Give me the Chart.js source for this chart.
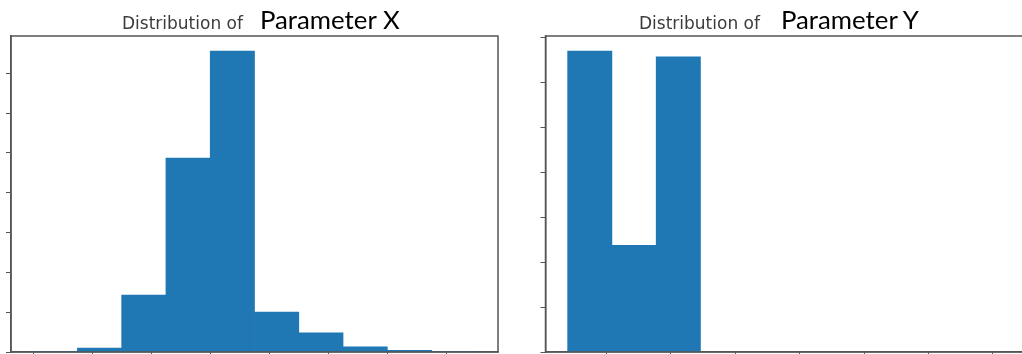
<!DOCTYPE html>
<html>
<head>
<meta charset="utf-8">
<script src="https://cdn.jsdelivr.net/npm/chart.js@4.4.1/dist/chart.umd.min.js"></script>
<style>
  html, body { margin: 0; padding: 0; width: 1022px; height: 354px; overflow: hidden; background: #fff; }
  canvas { position: absolute; top: 0; }
  #histX { left: 0; }
  #histY { left: 511px; }
  .title { position: absolute; top: 6px; white-space: nowrap; display: flex; align-items: baseline; line-height: 26px; }
  .title .pre { font-family: "DejaVu Sans", sans-serif; font-size: 17px; color: #3c3c3c; }
  .title .name { font-family: Lato, sans-serif; font-size: 25.8px; color: #000; margin-left: 17px; }
  #titleY .name { margin-left: 21px; }
</style>
</head>
<body>
<canvas id="histX" width="511" height="360"></canvas>
<canvas id="histY" width="511" height="360"></canvas>
<div class="title" id="titleX" style="left:122px"><span class="pre">Distribution of</span><span class="name">Parameter X</span></div>
<div class="title" id="titleY" style="left:639px"><span class="pre">Distribution of</span><span class="name">Parameter Y</span></div>
<script>
// Histogram of Parameter X: 10 equal bins
const binEdgesX = [0, 0.75, 1.5, 2.25, 3, 3.75, 4.5, 5.25, 6, 6.75, 7.5];
const countsX = [1, 10, 143, 487, 756, 100, 48, 13, 4, 1];
const xTicksX = [0, 1, 2, 3, 4, 5, 6, 7];
const yTicksX = [0, 100, 200, 300, 400, 500, 600, 700];

// Histogram of Parameter Y: 10 equal bins
const binEdgesY = [0.400, 1.087, 1.774, 2.461, 3.148, 3.835, 4.522, 5.209, 5.896, 6.583, 7.270];
const countsY = [669, 237, 656, 0, 0, 0, 0, 0, 0, 0];
const xTicksY = [1, 2, 3, 4, 5, 6, 7];
const yTicksY = [0, 100, 200, 300, 400, 500, 600, 700];

const BAR_COLOR = '#1f77b4';
const AXIS_COLOR = '#555555';
const PLOT_WIDTH = 487;   // width of a full plotting area in px

// Box around the plotting area, drawn above the bars
const framePlugin = {
  id: 'frame',
  afterDatasetsDraw(chart, args, opts) {
    const { ctx, chartArea: a } = chart;
    ctx.save();
    ctx.strokeStyle = AXIS_COLOR;
    ctx.lineWidth = 1.5;
    ctx.beginPath();
    ctx.moveTo(a.right, a.bottom);
    ctx.lineTo(a.left, a.bottom);
    ctx.lineTo(a.left, a.top);
    ctx.lineTo(a.right, a.top);
    if (opts.closed) ctx.closePath();
    ctx.stroke();
    ctx.restore();
  }
};

function tickAxis(extra) {
  return Object.assign({
    offset: false,
    ticks: { display: false },
    grid: { display: true, offset: false, drawOnChartArea: false, drawTicks: true, tickLength: 5, color: AXIS_COLOR, lineWidth: 1 },
    border: { display: true, color: AXIS_COLOR, width: 1.5 }
  }, extra);
}

// visibleWidth < PLOT_WIDTH cuts the x range off at the page edge
function histogram(canvasId, edges, counts, xTicks, yTicks, padding, visibleWidth) {
  const points = counts.map((c, i) => ({ x: (edges[i] + edges[i + 1]) / 2, y: c }));
  const span = edges[edges.length - 1] - edges[0];
  const xmin = edges[0] - 0.05 * span;
  const xmax = xmin + 1.1 * span * (visibleWidth / PLOT_WIDTH);
  const top = Math.max(...counts) * 1.05;
  return new Chart(document.getElementById(canvasId), {
    type: 'bar',
    data: {
      datasets: [{
        data: points,
        backgroundColor: BAR_COLOR,
        borderWidth: 0,
        barPercentage: 1,
        categoryPercentage: 1
      }]
    },
    options: {
      responsive: false,
      animation: false,
      layout: { padding },
      plugins: {
        legend: { display: false }, title: { display: false }, tooltip: { enabled: false },
        frame: { closed: visibleWidth >= PLOT_WIDTH }
      },
      scales: {
        x: tickAxis({
          type: 'linear',
          min: xmin,
          max: xmax,
          afterBuildTicks: s => { s.ticks = xTicks.filter(v => v <= xmax).map(v => ({ value: v })); }
        }),
        y: tickAxis({
          type: 'linear',
          min: 0,
          max: top,
          afterBuildTicks: s => { s.ticks = yTicks.map(v => ({ value: v })); }
        })
      }
    },
    plugins: [framePlugin]
  });
}

histogram('histX', binEdgesX, countsX, xTicksX, yTicksX, { left: 6, right: 13, top: 36, bottom: 3 }, PLOT_WIDTH);
histogram('histY', binEdgesY, countsY, xTicksY, yTicksY, { left: 29.5, right: 0, top: 36, bottom: 3 }, 476.5);
</script>
</body>
</html>
